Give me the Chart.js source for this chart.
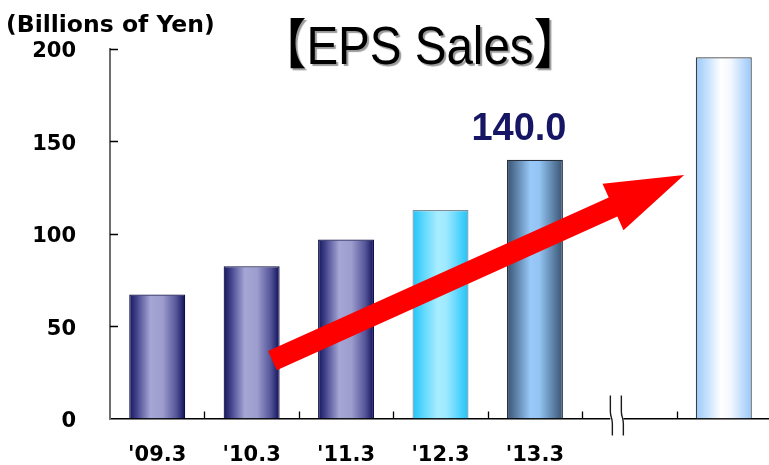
<!DOCTYPE html>
<html>
<head>
<meta charset="utf-8">
<script src="https://cdn.jsdelivr.net/npm/chart.js@4.4.0/dist/chart.umd.min.js"></script>
<style>
    html, body { margin: 0; padding: 0; background: #fff; overflow: hidden; }
    canvas { display: block; }
</style>
</head>
<body>
<canvas id="GraficoVendas" width="771" height="465"></canvas>
<script>
// data
var years = ["'09.3", "'10.3", "'11.3", "'12.3", "'13.3", "", ""];
var sales = [67.1, 82.4, 96.8, 112.8, 140.0, null, 195.5];
var yTicks = [0, 50, 100, 150, 200];
var labelledBar = 4;

// trend arrow, in chart units (category index, value)
var arrowFrom = [1.22, 31.3];
var arrowTo = [5.58, 131.8];

// horizontal gradient of each bar (offset, colour)
var barGradients = [
    [[0, '#15155c'], [0.14, '#46468f'], [0.38, '#a6a6d6'], [0.6, '#9c9ccd'], [0.84, '#55559a'], [1, '#101058']],
    [[0, '#15155c'], [0.14, '#46468f'], [0.38, '#a6a6d6'], [0.6, '#9c9ccd'], [0.84, '#55559a'], [1, '#101058']],
    [[0, '#15155c'], [0.14, '#46468f'], [0.38, '#a6a6d6'], [0.6, '#9c9ccd'], [0.84, '#55559a'], [1, '#101058']],
    [[0, '#22c4f8'], [0.2, '#5fd8fd'], [0.45, '#a8edff'], [0.6, '#9fe9ff'], [0.85, '#4fd2fc'], [1, '#22c2f6']],
    [[0, '#3a5270'], [0.18, '#5f84ab'], [0.42, '#98c9f8'], [0.58, '#93c4f3'], [0.84, '#5a7ea3'], [1, '#3a5270']],
    null,
    [[0, '#9acafa'], [0.2, '#c4e0fd'], [0.45, '#ffffff'], [0.62, '#f3f8ff'], [0.85, '#bcdafc'], [1, '#96c8fb']]
];
var barBorders = ['#0e0e48', '#0e0e48', '#0e0e48', '#7d8c99', '#26303d', '#000', '#3c3c3c'];
var BAR_PCT = 0.593;

function BarGradient(c) {
    var chart = c.chart;
    var x = chart.scales.x;
    var stops = barGradients[c.dataIndex];
    if (!x || !stops) return 'transparent';
    var half = (x.width / years.length) * BAR_PCT / 2;
    var cx = x.getPixelForValue(c.dataIndex);
    // scales are not laid out yet on the very first pass
    if (!isFinite(cx) || !isFinite(half) || half <= 0) return stops[2][1];
    var g = chart.ctx.createLinearGradient(cx - half, 0, cx + half, 0);
    stops.forEach(function (s) { g.addColorStop(s[0], s[1]); });
    return g;
}

function DrawArrow(ctx, x0, y0, x1, y1) {
    var dx = x1 - x0, dy = y1 - y0;
    var len = Math.sqrt(dx * dx + dy * dy);
    var ux = dx / len, uy = dy / len;
    var nx = -uy, ny = ux;
    var shaft = 10.5, head = 25.5, headLen = 78;
    var bx = x1 - ux * headLen, by = y1 - uy * headLen;

    ctx.save();
    ctx.fillStyle = '#ff0000';
    ctx.beginPath();
    ctx.moveTo(x0 + nx * shaft, y0 + ny * shaft);
    ctx.lineTo(bx + nx * shaft, by + ny * shaft);
    ctx.lineTo(bx + nx * head, by + ny * head);
    ctx.lineTo(x1, y1);
    ctx.lineTo(bx - nx * head, by - ny * head);
    ctx.lineTo(bx - nx * shaft, by - ny * shaft);
    ctx.lineTo(x0 - nx * shaft, y0 - ny * shaft);
    ctx.closePath();
    ctx.fill();
    ctx.restore();
}

var decorations = {
    id: 'decorations',
    afterDatasetsDraw: function (chart) {
        var x = chart.scales.x, y = chart.scales.y;
        DrawArrow(chart.ctx,
            x.getPixelForValue(arrowFrom[0]), y.getPixelForValue(arrowFrom[1]),
            x.getPixelForValue(arrowTo[0]), y.getPixelForValue(arrowTo[1]));
    },
    afterDraw: function (chart) {
        var ctx = chart.ctx;
        var x = chart.scales.x, y = chart.scales.y;
        var area = chart.chartArea;
        var i;

        ctx.save();

        // inward tick marks
        ctx.strokeStyle = '#000';
        ctx.lineWidth = 1.3;
        ctx.beginPath();
        for (i = 0; i < years.length - 1; i++) {
            var px = Math.round((x.getPixelForValue(i) + x.getPixelForValue(i + 1)) / 2) + 0.5;
            ctx.moveTo(px, area.bottom);
            ctx.lineTo(px, area.bottom - 7);
        }
        yTicks.forEach(function (v) {
            if (v === 0) return;
            var py = Math.round(y.getPixelForValue(v)) + 0.5;
            ctx.moveTo(area.left, py);
            ctx.lineTo(area.left + 8, py);
        });
        ctx.stroke();

        // axis break before the last bar
        var bx = x.getPixelForValue(5) - 19;
        var by = area.bottom;
        ctx.fillStyle = '#fff';
        ctx.fillRect(bx, by - 3, 13, 6);
        ctx.strokeStyle = '#1a1a1a';
        ctx.lineWidth = 1.4;
        [0, 11].forEach(function (off) {
            var lx = bx + off;
            ctx.beginPath();
            ctx.moveTo(lx, by - 23);
            ctx.lineTo(lx, by - 7);
            ctx.bezierCurveTo(lx, by - 1, lx + 2, by - 1, lx + 2, by + 5);
            ctx.lineTo(lx + 2, by + 17);
            ctx.stroke();
        });

        // value above the latest actual bar
        var bar = chart.getDatasetMeta(0).data[labelledBar];
        ctx.fillStyle = '#161664';
        ctx.font = "bold 38px 'Liberation Sans', Arial, sans-serif";
        ctx.textAlign = 'center';
        ctx.textBaseline = 'alphabetic';
        ctx.fillText(sales[labelledBar].toFixed(1), bar.x - 16, bar.y - 19.5);

        // unit
        ctx.fillStyle = '#000';
        ctx.font = "bold 23.5px 'DejaVu Sans', sans-serif";
        ctx.textAlign = 'left';
        ctx.fillText('(Billions of Yen)', 6, 32);

        // title with drop shadow, narrowed a little
        ctx.translate(420, 64);
        ctx.scale(0.88, 1);
        ctx.font = "54px 'Liberation Sans', 'Noto Sans CJK JP', sans-serif";
        ctx.textAlign = 'center';
        ctx.shadowColor = 'rgba(0, 0, 0, 0.4)';
        ctx.shadowOffsetX = 2;
        ctx.shadowOffsetY = 2;
        ctx.shadowBlur = 1;
        ctx.fillText('【EPS Sales】', 0, 0);

        ctx.restore();
    }
};

new Chart(document.getElementById('GraficoVendas'), {
    type: 'bar',
    data: {
        labels: years,
        datasets: [{
            label: 'EPS Sales',
            data: sales,
            backgroundColor: BarGradient,
            borderColor: barBorders,
            borderWidth: 1.2,
            borderSkipped: 'bottom',
            categoryPercentage: 1,
            barPercentage: BAR_PCT
        }]
    },
    options: {
        responsive: false,
        animation: false,
        layout: { padding: { top: 49, left: 0, right: 0, bottom: 0 } },
        plugins: {
            legend: { display: false },
            title: { display: false },
            tooltip: { enabled: false }
        },
        scales: {
            x: {
                grid: { display: false, drawTicks: false },
                border: { display: true, color: '#000', width: 1.5 },
                ticks: {
                    color: '#000',
                    padding: 25,
                    maxRotation: 0,
                    autoSkip: false,
                    font: { family: "'DejaVu Sans'", size: 21, weight: 'bold' }
                },
                afterFit: function (s) { s.height = 45; }
            },
            y: {
                min: 0,
                max: 200,
                afterBuildTicks: function (s) {
                    s.ticks = yTicks.map(function (v) { return { value: v }; });
                },
                grid: { display: false, drawTicks: false },
                border: { display: true, color: '#6e6e6e', width: 2 },
                ticks: {
                    color: '#000',
                    padding: 34,
                    labelOffset: 3,
                    font: { family: "'DejaVu Sans'", size: 21, weight: 'bold' }
                },
                afterFit: function (s) { s.width = 110; }
            }
        }
    },
    plugins: [decorations]
});
</script>
</body>
</html>
